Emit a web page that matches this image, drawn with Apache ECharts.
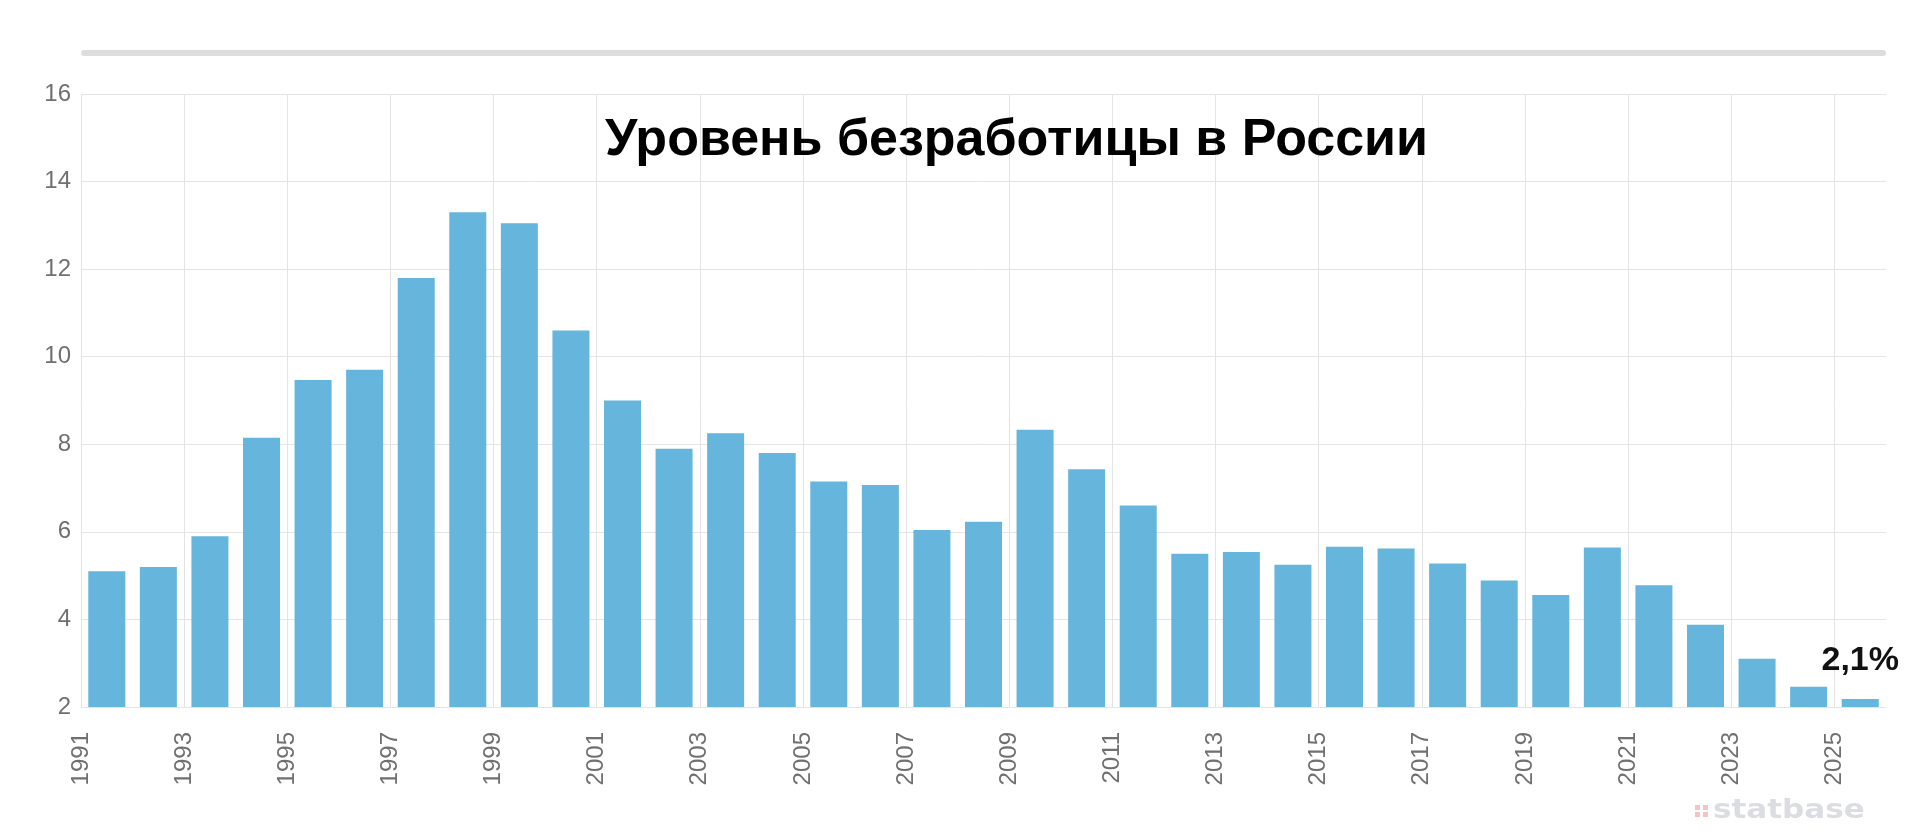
<!DOCTYPE html>
<html>
<head>
<meta charset="utf-8">
<script src="https://cdn.jsdelivr.net/npm/echarts@6/dist/echarts.min.js"></script>
<style>
    html, body { margin: 0; padding: 0; background: #fff; }
    #chart { width: 1920px; height: 832px; }
</style>
</head>
<body>
<div id="chart"></div>
<script>
var firstYear = 1991;
var years = [1991, 1992, 1993, 1994, 1995, 1996, 1997, 1998, 1999, 2000,
    2001, 2002, 2003, 2004, 2005, 2006, 2007, 2008, 2009, 2010,
    2011, 2012, 2013, 2014, 2015, 2016, 2017, 2018, 2019, 2020,
    2021, 2022, 2023, 2024, 2025];
var rates = [5.1, 5.2, 5.9, 8.15, 9.47, 9.7, 11.8, 13.3, 13.05, 10.6,
    9.0, 7.9, 8.25, 7.8, 7.15, 7.07, 6.04, 6.23, 8.33, 7.43,
    6.6, 5.5, 5.54, 5.25, 5.66, 5.62, 5.28, 4.89, 4.56, 5.64,
    4.78, 3.88, 3.1, 2.46, 2.18];
var lastLabel = '2,1%';
var title = 'Уровень безработицы в России';

var font = '"Liberation Sans", Arial, sans-serif';

// x is counted in years from 1991, bar centred in the middle of its year
var barData = years.map(function (y, i) {
    var item = { value: [y - firstYear + 0.5, rates[i]] };
    if (i === years.length - 1) {
        item.label = {
            show: true,
            position: 'top',
            distance: 21,
            formatter: lastLabel,
            color: '#111',
            fontWeight: 'bold',
            fontSize: 34,
            fontFamily: font
        };
    }
    return item;
});

// last split line (right edge) is not drawn in the original
var splitColors = [];
for (var k = 0; k < 18; k++) splitColors.push('#e4e4e4');
splitColors.push('rgba(0,0,0,0)');

var dot = '#f3c3c8';
var myChart = echarts.init(document.getElementById('chart'));
var option = {
    backgroundColor: '#fff',
    animation: false,
    title: {
        text: title,
        left: 600,
        top: 110,
        textStyle: {
            color: '#000',
            fontWeight: 'bold',
            fontSize: 52,
            fontFamily: font
        }
    },
    grid: { left: 81, right: 34, top: 94, bottom: 125 },
    xAxis: {
        type: 'value',
        min: 0,
        max: years.length,
        interval: 2,
        axisLine: { show: false },
        axisTick: { show: false },
        splitLine: { show: true, lineStyle: { color: splitColors, width: 1 } },
        axisLabel: {
            rotate: 90,
            margin: 25,
            showMaxLabel: false,
            color: '#707070',
            fontSize: 24,
            fontFamily: font,
            formatter: function (v) { return String(firstYear + v); }
        }
    },
    yAxis: {
        type: 'value',
        min: 2,
        max: 16,
        interval: 2,
        axisLine: { show: false },
        axisTick: { show: false },
        splitLine: { lineStyle: { color: '#e4e4e4', width: 1 } },
        axisLabel: {
            margin: 10,
            color: '#707070',
            fontSize: 24,
            fontFamily: font
        }
    },
    series: [{
        type: 'bar',
        barWidth: 37,
        itemStyle: { color: '#65b5dc' },
        data: barData
    }],
    graphic: [
        {
            type: 'rect',
            left: 81, top: 50,
            shape: { width: 1805, height: 6, r: 3 },
            style: { fill: '#dddddd' }
        },
        {
            type: 'group',
            left: 1695, top: 797,
            children: [
                { type: 'rect', shape: { x: 1, y: 7, width: 5, height: 5 }, style: { fill: dot } },
                { type: 'rect', shape: { x: 9, y: 7, width: 5, height: 5 }, style: { fill: dot } },
                { type: 'rect', shape: { x: 1, y: 14, width: 5, height: 5 }, style: { fill: dot } },
                { type: 'rect', shape: { x: 9, y: 14, width: 5, height: 5 }, style: { fill: dot } },
                {
                    type: 'text', x: 19, y: -1, scaleX: 1.15,
                    style: {
                        text: 'statbase',
                        fill: '#dcdde3',
                        fontSize: 27,
                        fontWeight: 'bold',
                        fontFamily: '"DejaVu Sans", sans-serif'
                    }
                }
            ]
        }
    ]
};
myChart.setOption(option);
window.onresize = function () {
    myChart.resize();
};
</script>
</body>
</html>
